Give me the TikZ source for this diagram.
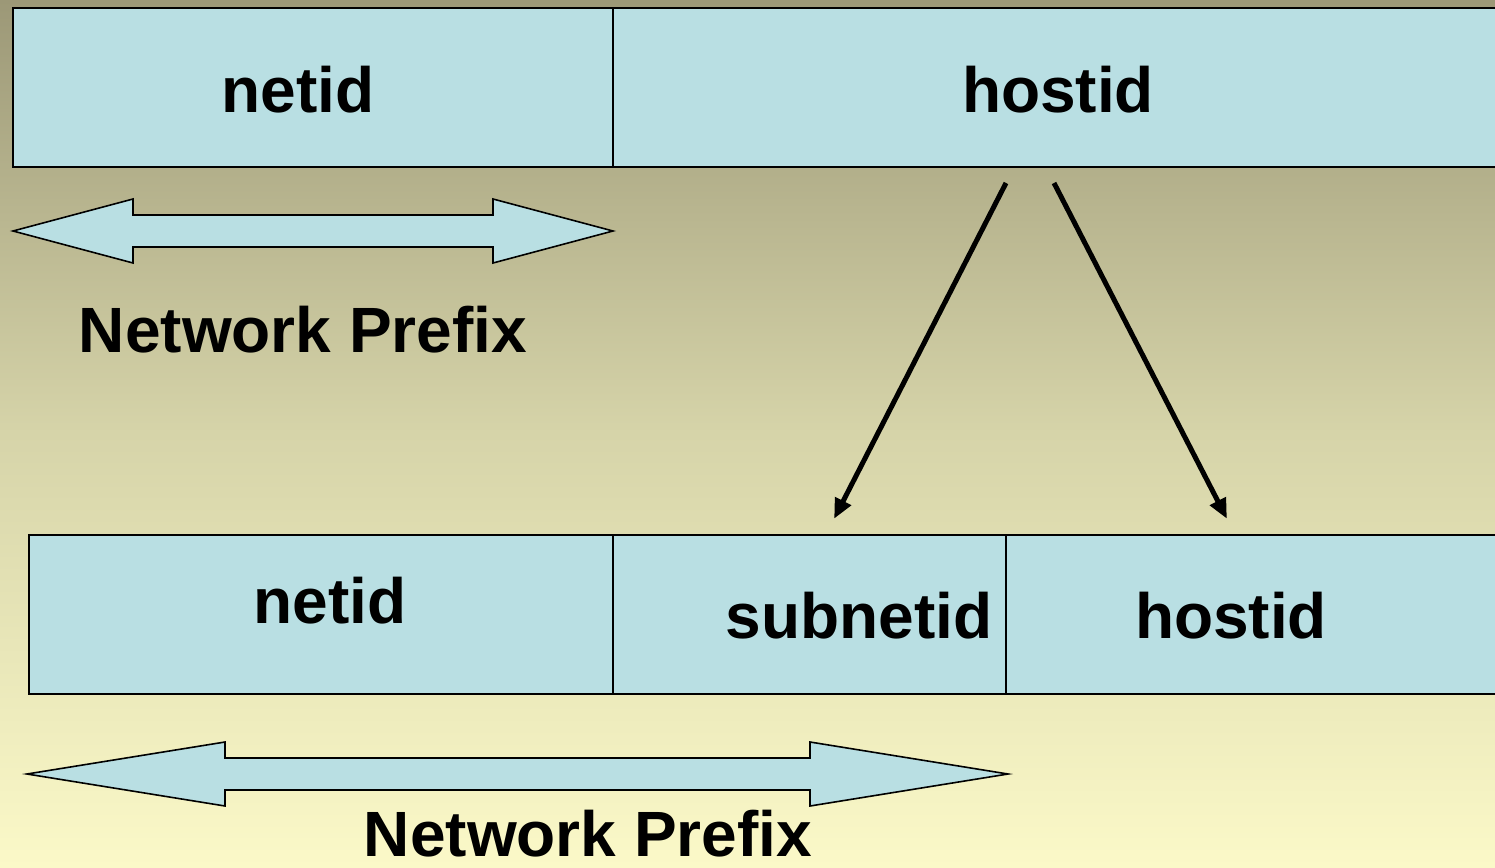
\documentclass[tikz,border=0pt]{standalone}
\usepackage{fontspec}
\setmainfont{Liberation Sans}
\usetikzlibrary{arrows.meta}
\definecolor{cellfill}{HTML}{B9DFE3}
\definecolor{bgtop}{HTML}{9C9877}
\definecolor{bgmid}{HTML}{D6D4A9}
\definecolor{bgbot}{HTML}{FBF9C8}
\tikzset{
  cell/.style={draw=black, line width=1.8pt, fill=cellfill, inner sep=0pt, outer sep=0pt, anchor=north west},
  lbl/.style={font=\fontsize{64}{70}\selectfont\bfseries, anchor=base, inner sep=0pt},
  conn/.style={line width=5pt, -{Triangle[length=20pt,width=17pt]}, shorten >=-2pt},
  span/.style={draw=black, line width=1.6pt, fill=cellfill, line join=miter}
}
\begin{document}
\begin{tikzpicture}[x=1pt,y=-1pt]
  \useasboundingbox (0,0) rectangle (1495,867);
  \clip (0,0) rectangle (1495,867);
  % background
  \shade[top color=bgtop, bottom color=bgbot, middle color=bgmid] (0,0) rectangle (1495,867);

  % upper address: netid | hostid
  \node[cell, minimum width=600pt, minimum height=159pt] (tnet) at (13,8) {};
  \node[cell, minimum width=900pt, minimum height=159pt] (thost) at (613,8) {};
  \node[lbl] (tnetl) at (298,112) {netid};
  \node[lbl] (thostl) at (1058,112) {hostid};

  % lower address: netid | subnetid | hostid
  \node[cell, minimum width=584pt, minimum height=159pt] (bnet) at (29,535) {};
  \node[cell, minimum width=393pt, minimum height=159pt] (bsub) at (613,535) {};
  \node[cell, minimum width=500pt, minimum height=159pt] (bhost) at (1006,535) {};
  \node[lbl] (bnetl) at (330,623) {netid};
  \node[lbl] (bsubl) at (859,638) {subnetid};
  \node[lbl] (bhostl) at (1231,638) {hostid};

  % hostid splits into subnetid and hostid
  \coordinate (s1) at (1006,183);
  \coordinate (e1) at (835,517);
  \coordinate (s2) at (1054,183);
  \coordinate (e2) at (1226,517);
  \draw[conn] (s1) -- (e1);
  \draw[conn] (s2) -- (e2);

  % network prefix spans
  \draw[span] (13,231) -- (133,199) -- (133,215) -- (493,215) -- (493,199)
    -- (613,231) -- (493,263) -- (493,247) -- (133,247) -- (133,263) -- cycle;
  \node[lbl] (np1) at (303,352) {Network Prefix};

  \draw[span] (27,774) -- (225,742) -- (225,758) -- (810,758) -- (810,742)
    -- (1008,774) -- (810,806) -- (810,790) -- (225,790) -- (225,806) -- cycle;
  \node[lbl] (np2) at (588,856) {Network Prefix};
\end{tikzpicture}
\end{document}
